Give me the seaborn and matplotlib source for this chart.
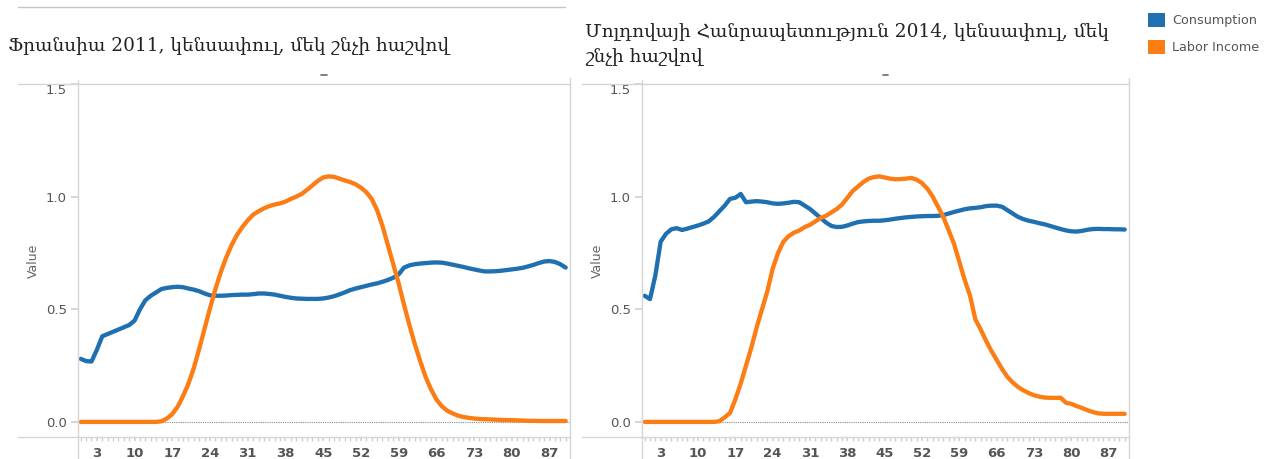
import pandas as pd
import matplotlib.pyplot as plt
import seaborn as sns
from matplotlib.lines import Line2D
from matplotlib.patches import Patch

# ages 0..90, per capita values
ages = list(range(91))

fr_consumption = [0.28, 0.27, 0.268, 0.32, 0.38, 0.39, 0.40, 0.41, 0.42, 0.43,
                  0.45, 0.50, 0.54, 0.56, 0.575, 0.59, 0.595, 0.598, 0.60, 0.598,
                  0.592, 0.587, 0.58, 0.57, 0.562, 0.56, 0.56, 0.561, 0.563, 0.564,
                  0.565, 0.565, 0.567, 0.57, 0.57, 0.568, 0.565, 0.56, 0.555, 0.551,
                  0.548, 0.547, 0.546, 0.546, 0.546, 0.548, 0.552, 0.558, 0.566, 0.575,
                  0.585, 0.592, 0.598, 0.604, 0.61, 0.615, 0.622, 0.63, 0.64, 0.655,
                  0.685, 0.695, 0.70, 0.703, 0.705, 0.707, 0.708, 0.707, 0.703, 0.698,
                  0.693, 0.688, 0.682, 0.677, 0.672, 0.668, 0.668, 0.669, 0.671, 0.674,
                  0.677, 0.68, 0.684, 0.69, 0.697, 0.705, 0.712, 0.714, 0.71, 0.70,
                  0.685]

fr_labor = [0, 0, 0, 0, 0, 0, 0, 0, 0, 0,
            0, 0, 0, 0, 0, 0.003, 0.015, 0.035, 0.068, 0.115,
            0.17, 0.24, 0.325, 0.415, 0.505, 0.59, 0.665, 0.73, 0.785, 0.83,
            0.865, 0.895, 0.92, 0.935, 0.948, 0.958, 0.965, 0.97, 0.978, 0.99,
            1.0, 1.012, 1.03, 1.05, 1.07, 1.085, 1.09, 1.088, 1.08, 1.072,
            1.065, 1.055, 1.04, 1.02, 0.99, 0.94, 0.87, 0.785, 0.70, 0.615,
            0.52, 0.43, 0.345, 0.27, 0.20, 0.145, 0.10, 0.07, 0.05, 0.038,
            0.028, 0.022, 0.018, 0.015, 0.013, 0.012, 0.011, 0.01, 0.009, 0.008,
            0.008, 0.007, 0.006, 0.005, 0.005, 0.004, 0.004, 0.004, 0.004, 0.004,
            0.004]

md_consumption = [0.56, 0.545, 0.65, 0.80, 0.835, 0.855, 0.86, 0.852, 0.858, 0.865,
                  0.872, 0.88, 0.89, 0.91, 0.935, 0.96, 0.99, 0.995, 1.012, 0.975,
                  0.978, 0.98, 0.978, 0.975, 0.97, 0.968, 0.97, 0.973, 0.977, 0.975,
                  0.96, 0.945, 0.925, 0.905, 0.885, 0.87, 0.865, 0.866, 0.872, 0.88,
                  0.887, 0.89, 0.892, 0.893, 0.893, 0.895, 0.898, 0.902, 0.905, 0.908,
                  0.91, 0.912, 0.913, 0.914, 0.914, 0.915, 0.918, 0.925, 0.932, 0.938,
                  0.944, 0.948, 0.95, 0.953, 0.958, 0.96, 0.96, 0.955, 0.94, 0.925,
                  0.91, 0.90, 0.893, 0.888, 0.882, 0.877, 0.87, 0.863, 0.856, 0.85,
                  0.846, 0.845, 0.848, 0.853, 0.856, 0.857, 0.856, 0.856, 0.855, 0.855,
                  0.854]

md_labor = [0, 0, 0, 0, 0, 0, 0, 0, 0, 0,
            0, 0, 0, 0, 0.003, 0.02, 0.04, 0.10, 0.17, 0.25,
            0.33, 0.42, 0.50, 0.58, 0.68, 0.75, 0.80, 0.825, 0.84, 0.85,
            0.865, 0.875, 0.89, 0.905, 0.915, 0.93, 0.945, 0.965, 0.995, 1.025,
            1.045, 1.065, 1.08, 1.087, 1.09, 1.085, 1.08, 1.077, 1.078, 1.08,
            1.083, 1.075, 1.06, 1.035, 1.0, 0.955, 0.91, 0.85, 0.79, 0.71,
            0.63, 0.56, 0.455, 0.41, 0.36, 0.315, 0.275, 0.235, 0.20, 0.175,
            0.155, 0.14, 0.128, 0.118, 0.112, 0.108, 0.107, 0.107, 0.107, 0.085,
            0.08, 0.07, 0.062, 0.052, 0.044, 0.038, 0.036, 0.036, 0.036, 0.036,
            0.036]

series_names = ['Consumption', 'Labor Income']
colors = {'Consumption': '#1f70b0', 'Labor Income': '#fc7d14'}
titles = ['Ֆրանսիա 2011, կենսափուլ, մեկ շնչի հաշվով',
          'Մոլդովայի Հանրապետություն 2014, կենսափուլ, մեկ\nշնչի հաշվով']
yticks = [0.0, 0.5, 1.0, 1.5]
xticks = list(range(3, 90, 7))


def long_df(cons, labor):
    return pd.DataFrame({
        'age': ages * 2,
        'value': cons + labor,
        'series': ['Consumption'] * len(ages) + ['Labor Income'] * len(ages),
    })


panels = [long_df(fr_consumption, fr_labor), long_df(md_consumption, md_labor)]

sns.set_theme(style='white')
plt.rcParams['font.family'] = ['DejaVu Sans']

W, H = 1273, 459
fig = plt.figure(figsize=(W / 100, H / 100), dpi=100)


def fx(x):
    return x / W


def fy(y):
    return 1 - y / H


def hline(y, x0, x1, color='#d6d6d6', lw=1.0):
    fig.add_artist(Line2D([fx(x0), fx(x1)], [fy(y), fy(y)], transform=fig.transFigure,
                          color=color, lw=lw))


def vline(x, y0, y1, color='#d6d6d6', lw=1.0):
    fig.add_artist(Line2D([fx(x), fx(x)], [fy(y0), fy(y1)], transform=fig.transFigure,
                          color=color, lw=lw))


# axes boxes in pixels: (left, right), top 84, bottom 437
boxes = [(78, 570), (642, 1129)]
title_pos = [(8, 45), (585, 44)]

for i, (df, (x0, x1)) in enumerate(zip(panels, boxes)):
    ax = fig.add_axes([fx(x0), fy(437), fx(x1 - x0), (437 - 84) / H])
    sns.lineplot(data=df, x='age', y='value', hue='series', palette=colors,
                 hue_order=series_names, lw=3.1, ax=ax, legend=False)
    ax.set_xlim(-0.5, 90.8)
    ax.set_ylim(-0.067, 1.5)
    ax.axhline(0, color='#8a8a8a', ls=(0, (1, 1)), lw=0.8, zorder=0)
    for s in ax.spines.values():
        s.set_visible(False)
    ax.set_yticks(yticks)
    ax.set_yticklabels(['%.1f' % t for t in yticks])
    ax.get_yticklabels()[-1].set_va('top')
    ax.set_xticks(xticks)
    ax.set_xticks(ages, minor=True)
    ax.tick_params(axis='y', length=5, color='#d0d0d0', labelsize=9.5,
                   labelcolor='#555555', pad=3, left=True)
    ax.tick_params(axis='x', which='both', length=3, color='#d0d0d0', bottom=True)
    ax.tick_params(axis='x', labelsize=9.5, labelcolor='#555555', pad=4)
    for lab in ax.get_xticklabels():
        lab.set_fontweight('bold')
    ax.set_xlabel('')
    ax.set_ylabel('Value', color='#666666', fontsize=9, labelpad=4)

    # frame lines like the original dashboard
    hline(84, x0 - 60, x1)
    hline(437, x0 - 60, x1)
    vline(x0, 80, H)
    vline(x1, 78, H)
    # small header mark
    mid = (x0 + x1) / 2
    hline(75, mid - 2.5, mid + 2.5, color='#777777', lw=1.3)

    tx, ty = title_pos[i]
    fig.text(fx(tx), fy(ty), titles[i], ha='left', va='center', fontsize=13.3,
             family=['DejaVu Serif'], color='#222222', linespacing=1.55)

hline(7, 18, 565, color='#c4c4c4')

handles = [Patch(facecolor=colors[n], edgecolor='none', label=n) for n in series_names]
fig.legend(handles=handles, loc='upper left', bbox_to_anchor=(fx(1138), fy(3)),
           frameon=False, fontsize=9.2, labelcolor='#555555', handlelength=1.3,
           handleheight=1.3, handletextpad=0.6, labelspacing=0.95, borderpad=0.3)

fig.savefig('out.png', dpi=100)
